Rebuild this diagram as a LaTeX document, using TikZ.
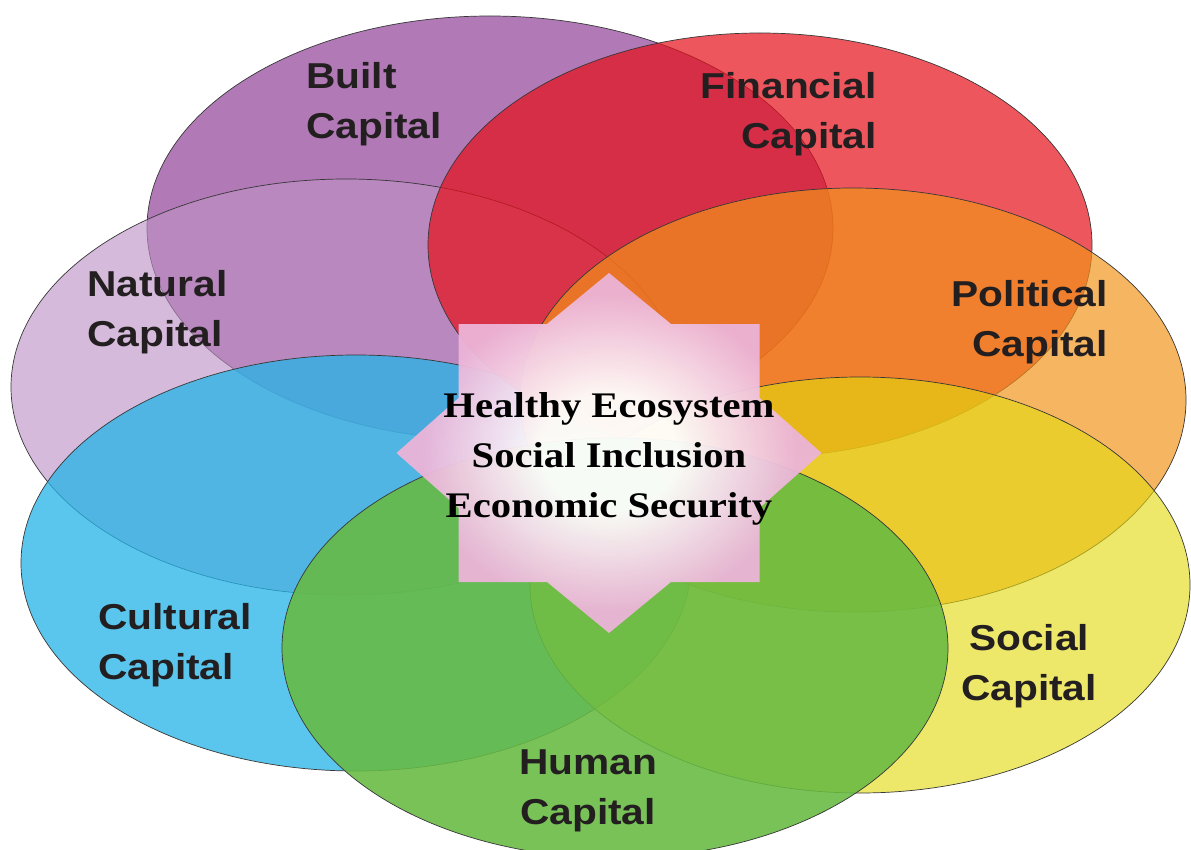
\documentclass[tikz,border=0pt]{standalone}
\usepackage{fontspec}
\newfontfamily\labfont[FakeStretch=1.13]{Liberation Sans}
\newfontfamily\starfont[FakeStretch=1.13]{Liberation Serif}
\definecolor{cBuilt}{RGB}{152,78,158}
\definecolor{cNatural}{RGB}{189,145,197}
\definecolor{cCultural}{RGB}{36,180,231}
\definecolor{cFinancial}{RGB}{232,15,25}
\definecolor{cPolitical}{RGB}{242,148,23}
\definecolor{cSocial}{RGB}{227,218,15}
\definecolor{cHuman}{RGB}{103,186,66}
\definecolor{edgegray}{RGB}{55,55,55}
\definecolor{starpink}{RGB}{236,180,216}
\definecolor{labink}{RGB}{35,31,32}
\pgfdeclareradialshading{starshade}{\pgfpoint{0bp}{0bp}}{color(0bp)=(white); color(8bp)=(white); color(22bp)=(starpink); color(50bp)=(starpink)}
\tikzset{
  capellipse/.style={draw=edgegray, line width=0.7pt},
  caplabel/.style={font=\labfont\bfseries\fontsize{36}{50}\selectfont, text=labink, inner sep=0pt},
  goaltext/.style={font=\starfont\bfseries\fontsize{36}{50}\selectfont, text=black, inner sep=0pt, align=center},
}
\begin{document}
\begin{tikzpicture}[x=1pt,y=-1pt]
\useasboundingbox (0,0) rectangle (1191,850);
\clip (0,0) rectangle (1191,850);
\fill[white] (0,0) rectangle (1191,850);
% centres of the seven capitals
\coordinate (built) at (490,228);
\coordinate (natural) at (346,387);
\coordinate (cultural) at (356,563);
\coordinate (financial) at (760,245);
\coordinate (political) at (853,400);
\coordinate (social) at (860,585);
\coordinate (human) at (615,648);
\coordinate (star) at (609,453);
% ellipses
\draw[capellipse, fill=cBuilt, fill opacity=0.75] (built) ellipse [x radius=343pt, y radius=212pt];
\draw[capellipse, fill=cNatural, fill opacity=0.62] (natural) ellipse [x radius=335pt, y radius=208pt];
\draw[capellipse, fill=cCultural, fill opacity=0.75] (cultural) ellipse [x radius=335pt, y radius=208pt];
\draw[capellipse, fill=cFinancial, fill opacity=0.7] (financial) ellipse [x radius=332pt, y radius=212pt];
\draw[capellipse, fill=cPolitical, fill opacity=0.68] (political) ellipse [x radius=333pt, y radius=212pt];
\draw[capellipse, fill=cSocial, fill opacity=0.62] (social) ellipse [x radius=330pt, y radius=208pt];
\draw[capellipse, fill=cHuman, fill opacity=0.88] (human) ellipse [x radius=333pt, y radius=210pt];
% central star
\begin{scope}[shift={(star)}]
\shade[shading=starshade, fill opacity=0.95]
  (0,-180) -- (62,-129) -- (150.5,-129) -- (150.5,-55) -- (212.5,0) -- (150.5,55)
  -- (150.5,129) -- (62,129) -- (0,180) -- (-62,129) -- (-150.5,129) -- (-150.5,55)
  -- (-212.5,0) -- (-150.5,-55) -- (-150.5,-129) -- (-62,-129) -- cycle;
\end{scope}
\node[goaltext] (goals) at (609,458.6) {Healthy Ecosystem\\Social Inclusion\\Economic Security};
% labels
\node[caplabel, align=left, anchor=west] (builtlab) at (306,104) {Built\\Capital};
\node[caplabel, align=left, anchor=west] (naturallab) at (87,312.5) {Natural\\Capital};
\node[caplabel, align=right, anchor=east] (financiallab) at (877,114) {Financial\\Capital};
\node[caplabel, align=right, anchor=east] (politicallab) at (1108,322.5) {Political\\Capital};
\node[caplabel, align=left, anchor=west] (culturallab) at (98,645.5) {Cultural\\Capital};
\node[caplabel, align=center] (sociallab) at (1029,666.5) {Social\\Capital};
\node[caplabel, align=center] (humanlab) at (588,791) {Human\\Capital};
\end{tikzpicture}
\end{document}
